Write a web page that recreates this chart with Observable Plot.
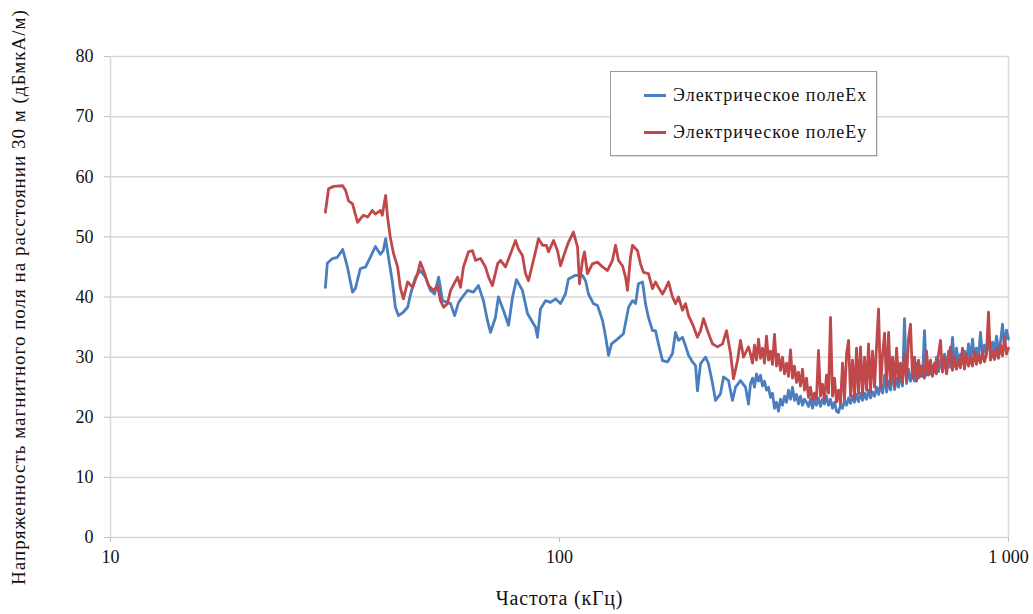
<!DOCTYPE html>
<html>
<head>
<meta charset="utf-8">
<script src="https://cdn.jsdelivr.net/npm/d3@7"></script>
<script src="https://cdn.jsdelivr.net/npm/@observablehq/plot@0.6"></script>
<style>
  body { margin: 0; background: #fff; }
  #chart { position: relative; width: 1033px; height: 614px; font-family: "Liberation Serif", "Times New Roman", serif; }
  #chart svg text { font-family: "Liberation Serif", "Times New Roman", serif; }
  .legend { position: absolute; left: 610px; top: 71px; width: 267px; height: 85px;
            border: 1px solid #9a9a9a; background: #fff; box-sizing: border-box;
            box-shadow: 1px 1px 1px rgba(0,0,0,0.12); }
  .legend .row { position: absolute; left: 33px; height: 22px; display: flex; align-items: center;
                 font-size: 18px; letter-spacing: 1px; color: #111; white-space: nowrap; }
  .legend .swatch { width: 22px; height: 3px; margin-right: 7px; }
</style>
</head>
<body>
<div id="chart"></div>
<script>
// Measured field strength at 30 m, Ex component (frequency in kHz, level in dBµA/m)
const exFreq = [30.1, 30.4, 31.2, 32.0, 32.9, 33.7, 34.6, 35.1, 36.0, 37.0, 37.9, 38.9, 39.9, 40.5, 41.0, 41.6,
  42.5, 43.1, 43.8, 44.9, 45.9, 46.6, 47.8, 49.0, 50.3, 51.6, 52.7, 53.8, 54.9, 56.3, 57.2, 58.4, 59.6, 61.1,
  62.4, 64.3, 66.0, 67.7, 69.1, 70.2, 72.0, 73.1, 75.0, 77.0, 78.6, 80.2, 82.7, 84.9, 87.1, 88.4, 89.3, 90.7,
  93.1, 95.5, 98.0, 100.5, 103.1, 104.7, 108.5, 112.5, 114.3, 116.0, 119.0, 121.5, 124.7, 126.6, 128.6, 130.6,
  134.6, 138.8, 142.5, 145.4, 147.7, 149.9, 153.1, 155.4, 157.8, 161.1, 163.6, 166.1, 169.6, 174.0, 178.5,
  181.3, 184.1, 187.9, 190.8, 193.8, 197.8, 200.9, 202.9, 206.1, 211.4, 214.7, 219.2, 222.6, 228.3, 231.9,
  237.9, 242.8, 246.6, 253.0, 259.6, 263.6,
  266.3, 269.1, 271.8, 274.6, 277.5, 280.3, 283.2, 286.1, 289.1, 292.1, 295.1, 298.1, 301.2, 304.3, 307.4,
  310.6, 313.8, 317.0, 320.3, 323.6, 326.9, 330.3, 333.7, 337.1, 340.6, 344.1, 347.7, 351.3, 354.9, 358.5,
  362.2, 366.0, 369.7, 373.5, 377.4, 381.3, 385.2, 389.2, 393.2, 397.3, 401.4, 405.5, 409.7, 413.9, 418.2,
  422.5, 426.9, 431.3, 435.8, 440.3, 444.8, 449.4, 454.0, 458.7, 463.4, 468.2, 473.1, 478.0, 482.9, 487.9,
  492.9, 498.0, 503.2, 508.4, 513.6, 518.9, 524.3, 529.7, 535.2, 540.7, 546.3, 551.9, 557.6, 563.4, 569.2,
  574.7, 580.7, 586.6, 592.7, 598.8, 605.0, 611.2, 617.5, 623.9, 630.3, 636.8, 643.4, 650.0, 656.7, 663.5,
  670.3, 677.2, 684.2, 691.3, 698.4, 705.6, 712.9, 720.3, 727.7, 735.2, 742.7, 750.4, 758.1, 766.0, 773.9,
  781.8, 789.9, 798.0, 806.3, 814.6, 823.0, 831.5, 840.1, 848.6, 857.4, 866.2, 875.2, 884.2, 893.3, 902.5,
  911.8, 921.2, 930.7, 940.3, 950.0, 959.8, 969.7, 979.7, 989.8, 1000];
const exLevel = [41.6, 45.6, 46.4, 46.6, 47.9, 45.0, 40.8, 41.4, 44.7, 45.0, 46.6, 48.4, 47.1, 47.7, 49.7, 46.6,
  42.2, 38.3, 36.9, 37.5, 38.3, 40.5, 43.3, 44.4, 43.3, 41.1, 40.5, 43.3, 39.4, 39.1, 38.9, 36.9, 39.1, 40.2,
  41.1, 40.8, 41.9, 39.4, 36.1, 34.1, 36.6, 40.0, 37.8, 35.3, 40.0, 42.9, 41.1, 37.2, 35.8, 35.0, 33.3, 38.0,
  39.4, 39.1, 39.7, 38.9, 40.5, 43.0, 43.6, 43.6, 42.7, 40.5, 38.9, 38.6, 36.1, 33.5, 30.3, 32.2,
  33.0, 33.9, 38.3, 39.4, 38.9, 42.2, 42.5, 38.9, 36.6, 34.4, 34.4, 32.2, 29.4, 29.2, 30.6,
  34.1, 32.8, 33.3, 31.9, 30.3, 29.2, 28.6, 24.4, 28.9, 30.0, 28.9, 25.6, 22.8, 23.9, 26.7,
  26.1, 22.8, 25.0, 26.1, 25.0, 22.2,
  25.6, 26.5, 25.0, 27.2, 26.0, 27.0, 25.2, 26.0, 24.5, 25.0, 23.3, 24.0, 21.5, 22.5, 21.0,
  23.0, 22.0, 23.5, 22.5, 24.5, 23.0, 25.0, 22.8, 23.8, 22.2, 23.5, 22.0, 23.0, 22.5, 21.8,
  23.0, 21.5, 22.8, 22.0, 23.2, 21.8, 23.0, 22.2, 23.5, 22.0, 23.0, 21.5, 22.5, 21.0, 20.8,
  22.0, 21.5, 22.8, 22.0, 23.2, 22.3, 23.5, 22.5, 23.8, 22.6, 24.0, 22.8, 24.0, 23.0, 24.5,
  23.2, 24.2, 23.5, 25.0, 23.8, 25.5, 24.0, 27.0, 24.2, 26.0, 24.5, 28.0, 24.6, 26.5, 25.0,
  27.5, 25.2, 36.4, 25.6, 28.0, 26.0, 27.5, 26.0, 29.0, 26.5, 28.5, 26.8, 34.4, 27.0, 29.0,
  27.2, 28.5, 27.5, 30.0, 27.6, 29.5, 27.8, 30.5, 28.0, 31.0, 28.3, 33.3, 28.5, 31.5, 28.8,
  30.5, 29.0, 31.0, 29.2, 32.2, 29.5, 33.0, 29.7, 31.5, 30.0, 34.1, 30.2, 32.0, 30.5, 33.0,
  30.8, 32.5, 31.0, 33.5, 31.2, 32.5, 35.5, 31.8, 34.5, 33.0];

// Ey component
const eyFreq = [30.1, 30.6, 31.4, 32.9, 33.4, 33.9, 34.6, 35.5, 36.0, 36.6, 37.4, 38.3, 38.9, 39.9, 40.3, 41.0,
  41.4, 42.0, 42.7, 43.6, 44.2, 44.9, 45.9, 47.1, 48.3, 49.0, 49.8, 51.1, 52.4, 53.5, 54.3, 55.2, 56.3, 57.2,
  59.3, 60.2, 61.1, 62.7, 64.0, 65.0, 66.7, 68.4, 69.5, 70.9, 72.8, 73.9, 75.8, 77.8, 79.8, 81.0, 82.7, 84.0,
  85.3, 87.1, 88.4, 89.8, 91.7, 93.5, 94.5, 97.0, 99.0, 100.5, 103.1, 104.7, 107.4, 109.7, 110.8, 112.5, 113.7,
  115.4, 118.4, 121.5, 124.7, 127.9, 131.2, 133.3, 135.3, 138.1, 140.3, 141.7, 143.9, 145.4, 149.2, 151.5,
  153.8, 157.8, 161.1, 163.6, 166.1, 169.6, 172.2, 174.9, 178.5, 181.3, 184.1, 187.9, 190.8, 193.8, 197.8,
  202.9, 206.1, 209.3, 213.6, 219.2, 224.9, 230.7, 235.5, 240.4, 244.1, 249.1, 253.0, 256.9, 263.6,
  266.3, 269.1, 271.8, 274.6, 277.5, 280.3, 283.2, 286.1, 289.1, 292.1, 295.1, 298.1, 301.2, 304.3, 307.4,
  310.6, 313.8, 317.0, 320.3, 323.6, 326.9, 330.3, 333.7, 337.1, 340.6, 344.1, 347.7, 351.3, 354.9, 358.5,
  362.2, 366.0, 369.7, 373.5, 377.4, 381.3, 385.2, 389.2, 393.2, 397.3, 401.4, 405.5, 409.7, 413.9, 418.2,
  422.5, 426.9, 431.3, 435.8, 440.3, 444.8, 449.4, 454.0, 458.7, 463.4, 468.2, 473.1, 478.0, 482.9, 487.9,
  492.9, 498.0, 503.2, 508.4, 513.6, 518.9, 524.3, 529.7, 535.2, 540.7, 546.3, 551.9, 557.6, 563.4, 569.2,
  574.7, 580.7, 586.6, 592.7, 598.8, 605.0, 611.2, 617.5, 623.9, 630.3, 636.8, 643.4, 650.0, 656.7, 663.5,
  670.3, 677.2, 684.2, 691.3, 698.4, 705.6, 712.9, 720.3, 727.7, 735.2, 742.7, 750.4, 758.1, 766.0, 773.9,
  781.8, 789.9, 798.0, 806.3, 814.6, 823.0, 831.5, 840.1, 848.6, 857.4, 866.2, 875.2, 884.2, 893.3, 902.5,
  911.8, 921.2, 930.7, 940.3, 950.0, 959.8, 969.7, 979.7, 989.8, 1000];
const eyLevel = [54.1, 58.0, 58.4, 58.5, 57.7, 56.0, 55.5, 52.4, 53.0, 53.6, 53.3, 54.4, 53.8, 54.4, 53.6, 56.9,
  53.3, 49.9, 47.2, 45.0, 41.6, 39.7, 42.5, 41.6, 43.9, 45.8, 44.4, 41.9, 41.1, 41.9, 39.4, 38.3, 38.9, 41.1,
  43.3, 41.6, 45.0, 47.5, 47.7, 46.1, 46.4, 45.0, 43.3, 41.9, 45.5, 46.1, 45.0, 47.2, 49.4, 48.0, 46.9, 43.9,
  42.7, 45.5, 47.5, 49.7, 48.6, 48.6, 47.5, 49.4, 47.7, 45.2, 47.7, 49.1, 50.8, 48.3, 42.2, 46.1, 47.5,
  43.9, 45.5, 45.8, 45.0, 44.4, 46.1, 48.6, 46.1, 45.2, 43.3, 41.1, 46.6, 48.6, 47.7, 45.5,
  44.1, 43.9, 41.4, 42.5, 41.6, 40.5, 41.4, 42.5, 40.0, 38.9, 40.0, 37.8, 38.9, 36.9, 35.5,
  33.3, 34.4, 36.4, 34.4, 32.2, 31.7, 32.2, 34.4, 30.6, 26.4, 29.4, 32.8, 30.0, 31.7,
  30.5, 29.0, 32.0, 29.5, 33.0, 29.8, 31.5, 29.0, 33.5, 29.5, 31.0, 28.8, 33.8, 28.5, 30.5,
  27.8, 30.0, 27.2, 29.0, 26.8, 31.2, 26.5, 28.5, 25.8, 27.5, 25.2, 28.0, 24.5, 26.5, 23.3,
  25.0, 22.8, 24.0, 23.0, 31.1, 23.5, 25.5, 22.8, 27.0, 24.0, 36.6, 23.5, 26.5, 22.5, 24.5,
  22.2, 29.0, 23.0, 30.5, 32.8, 23.5, 29.5, 23.0, 31.5, 24.0, 31.7, 23.8, 30.0, 24.5, 32.2,
  24.2, 31.0, 25.0, 32.0, 38.0, 24.8, 30.5, 34.0, 25.2, 34.1, 25.5, 30.0, 25.2, 31.5, 26.0,
  29.0, 25.8, 30.5, 26.2, 33.0, 35.5, 26.5, 30.0, 26.0, 29.5, 26.8, 28.5, 26.5, 31.0, 27.0,
  29.5, 26.8, 29.0, 27.2, 30.5, 32.8, 27.5, 30.0, 27.2, 29.5, 31.7, 27.8, 30.0, 28.0, 29.5,
  28.2, 31.5, 28.0, 30.5, 28.5, 30.0, 28.5, 31.0, 28.8, 30.5, 29.0, 31.0, 29.2, 30.5, 37.5,
  29.5, 31.0, 29.6, 31.5, 29.8, 32.0, 30.2, 33.3, 30.5, 31.5];

const seriesNames = ["Электрическое полеEx", "Электрическое полеEy"];
const seriesColors = ["#4a7ebf", "#c0484b"];
const yTicks = [0, 10, 20, 30, 40, 50, 60, 70, 80];
const xTicks = [10, 100, 1000];
const xTickLabels = ["10", "100", "1 000"];
const yTitle = "Напряженность магнитного поля на расстоянии 30 м (дБмкА/м)";
const xTitle = "Частота (кГц)";

const ex = exFreq.map((f, i) => ({f, v: exLevel[i]}));
const ey = eyFreq.map((f, i) => ({f, v: eyLevel[i]}));

const grid = "#d9d9d9";
const serif = "'Liberation Serif', 'Times New Roman', serif";

const chart = Plot.plot({
  width: 1033,
  height: 614,
  marginLeft: 110,
  marginRight: 25,
  marginTop: 56,
  marginBottom: 77,
  style: {fontFamily: serif, fontSize: "18px", color: "#111", background: "#fff"},
  x: {type: "log", domain: [10, 1000]},
  y: {domain: [0, 80]},
  marks: [
    Plot.gridY(yTicks, {stroke: grid, strokeOpacity: 1, strokeWidth: 1.5}),
    Plot.ruleX([10, 1000], {stroke: grid, strokeWidth: 1.5}),
    Plot.axisY(yTicks, {tickSize: 6, tickPadding: 11, stroke: "#bfbfbf", fill: "#111", label: null}),
    Plot.axisX(xTicks, {tickSize: 5, tickPadding: 8, stroke: "#bfbfbf", fill: "#111", label: null,
      tickFormat: d => xTickLabels[xTicks.indexOf(d)]}),
    Plot.line(ex, {x: "f", y: "v", stroke: seriesColors[0], strokeWidth: 2.8}),
    Plot.line(ey, {x: "f", y: "v", stroke: seriesColors[1], strokeWidth: 2.8}),
    Plot.text([yTitle], {frameAnchor: "left", textAnchor: "middle", dx: -92, rotate: -90, fill: "#111", fontSize: 19}),
    Plot.text([xTitle], {frameAnchor: "bottom", textAnchor: "middle", dy: 67, fill: "#111", fontSize: 20})
  ]
});

// Wider tracking on the two axis titles
chart.querySelectorAll("text").forEach(t => {
  if (t.textContent === yTitle) t.style.letterSpacing = "1px";
  if (t.textContent === xTitle) t.style.letterSpacing = "0.8px";
});

const root = document.getElementById("chart");
root.appendChild(chart);

// Legend box in the upper right of the plot area
const legend = document.createElement("div");
legend.className = "legend";
seriesNames.forEach((name, i) => {
  const row = document.createElement("div");
  row.className = "row";
  row.style.top = (i === 0 ? 12 : 49) + "px";
  const sw = document.createElement("span");
  sw.className = "swatch";
  sw.style.background = seriesColors[i];
  const label = document.createElement("span");
  label.textContent = name;
  row.appendChild(sw);
  row.appendChild(label);
  legend.appendChild(row);
});
root.appendChild(legend);
</script>
</body>
</html>
